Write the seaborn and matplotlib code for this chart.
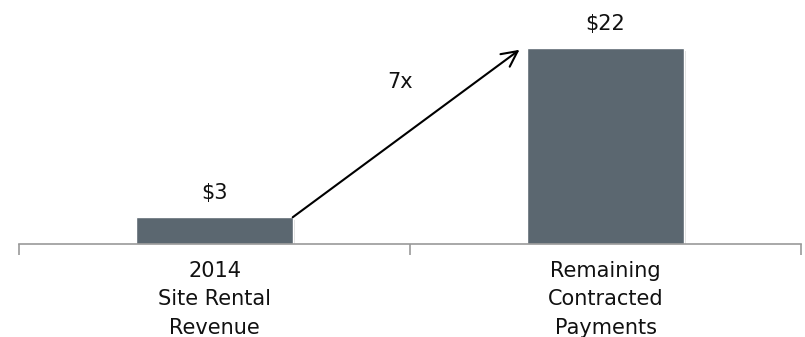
import matplotlib
matplotlib.use("Agg")
import matplotlib.pyplot as plt
import matplotlib.patheffects as pe
import seaborn as sns
import pandas as pd

categories = ["2014\nSite Rental\nRevenue", "Remaining\nContracted\nPayments"]
values = [3, 22]
value_labels = ["$3", "$22"]
multiple_label = "7x"

sns.set_style("white")
plt.rcParams["font.family"] = ["DejaVu Sans"]

df = pd.DataFrame({"category": categories, "value": values})

fig = plt.figure(figsize=(8.05, 3.37), dpi=100)
ax = fig.add_axes([19 / 805, 93 / 337, 782 / 805, 244 / 337])

sns.barplot(data=df, x="category", y="value", color="#5b6770", saturation=1,
            width=0.4, ax=ax)
for patch in ax.patches:
    patch.set_path_effects([pe.SimplePatchShadow(offset=(2, -2), alpha=0.18,
                                                 shadow_rgbFace="#444444"),
                            pe.Normal()])

ax.set_xlim(-0.5, 1.5)
ax.set_ylim(0, 27.39)

# value labels above bars
for i, (v, lab) in enumerate(zip(values, value_labels)):
    ax.text(i, v + 1.6, lab, ha="center", va="bottom", fontsize=15, color="#111111")

# growth arrow from the small bar to the tall bar
ax.annotate("", xy=(0.78, values[1] - 0.2), xytext=(0.2, values[0]),
            arrowprops=dict(arrowstyle="->", color="black", lw=1.5,
                            mutation_scale=28, shrinkA=0, shrinkB=0))
ax.text(0.474, 18.2, multiple_label, ha="center", va="center", fontsize=15,
        color="#111111")

# axis styling
for side in ["top", "right", "left"]:
    ax.spines[side].set_visible(False)
ax.spines["bottom"].set_color("#999999")
ax.spines["bottom"].set_linewidth(1.2)
ax.set_yticks([])
ax.set_xlabel("")
ax.set_ylabel("")
ax.set_xticks([-0.5, 0.5, 1.5], minor=True)
ax.tick_params(axis="x", which="major", bottom=False, length=0, pad=12,
               labelsize=15, labelcolor="#111111")
ax.tick_params(axis="x", which="minor", bottom=True, length=8, width=1.2,
               color="#999999", direction="out")
for t in ax.get_xticklabels():
    t.set_linespacing(1.55)

fig.savefig("out.png", dpi=100)
